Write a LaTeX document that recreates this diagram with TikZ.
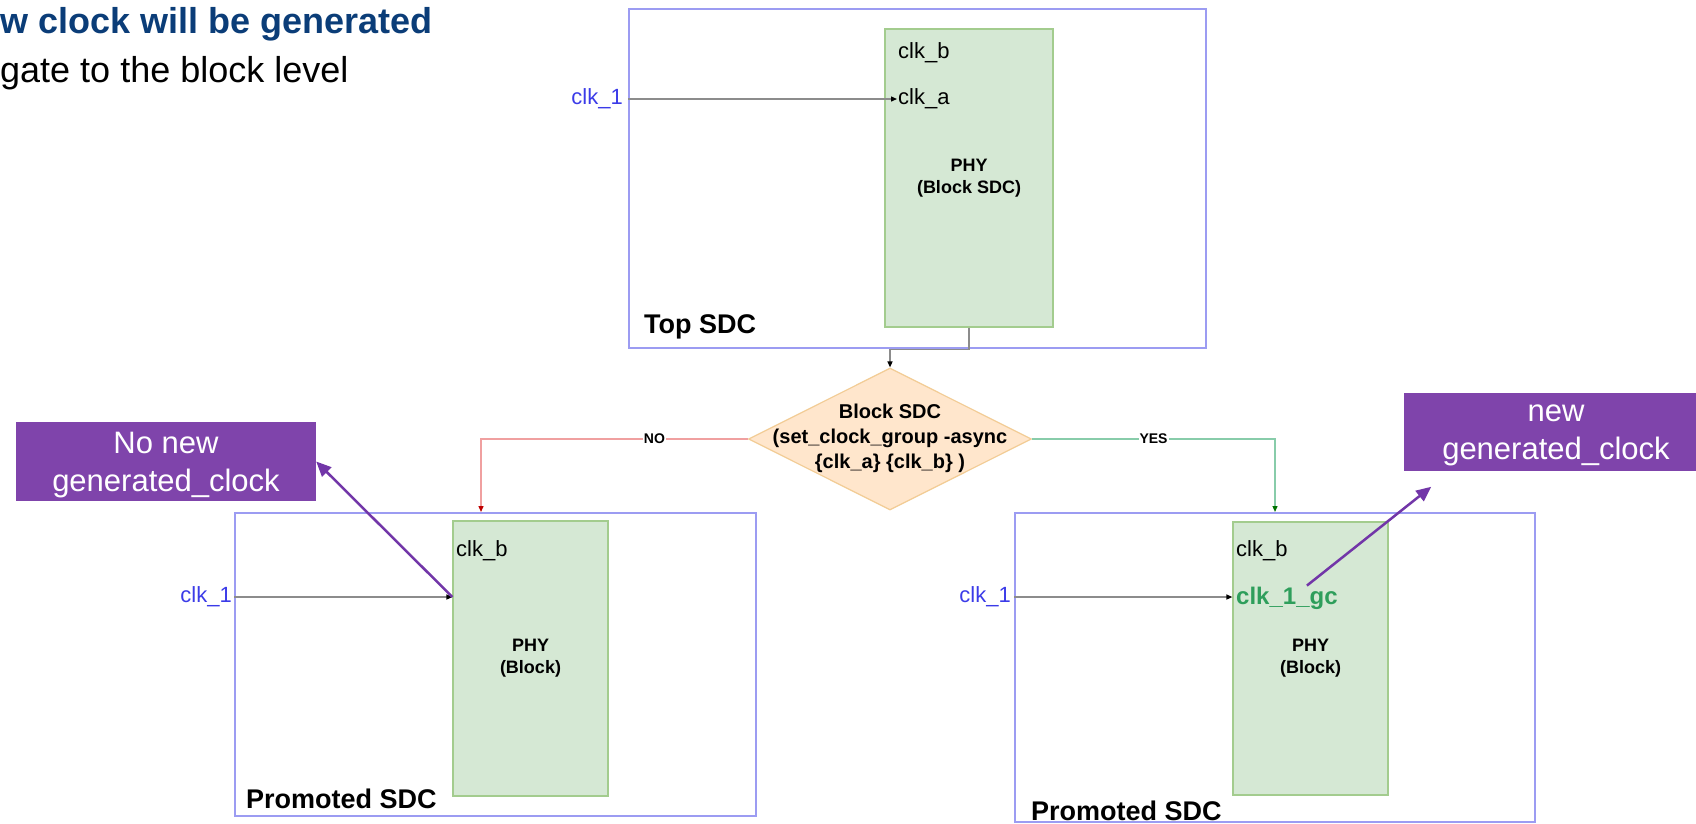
\documentclass[tikz,border=0pt]{standalone}
\usepackage{fontspec}
\setmainfont{Liberation Sans}
\usepackage{xcolor}
\usetikzlibrary{shapes.geometric,positioning,arrows.meta,calc}
\definecolor{sdcblue}{HTML}{9C9CF2}
\definecolor{phyfill}{HTML}{D5E8D4}
\definecolor{phydraw}{HTML}{A3CC8E}
\definecolor{condfill}{HTML}{FFE6CC}
\definecolor{conddraw}{HTML}{F2CC95}
\definecolor{nored}{HTML}{F0A0A0}
\definecolor{yesgreen}{HTML}{88CCAA}
\definecolor{clkblue}{HTML}{3B3BE8}
\definecolor{gcgreen}{HTML}{2E9E5B}
\definecolor{callpurple}{HTML}{7F44AB}
\definecolor{arrowpurple}{HTML}{7236A8}
\definecolor{titleblue}{HTML}{0B3D78}
\tikzset{
  sdcbox/.style={draw=sdcblue, line width=2pt, inner sep=0pt},
  phybox/.style={draw=phydraw, fill=phyfill, line width=1.2pt, align=center,
                 font=\fontsize{18}{22}\selectfont\bfseries},
  decision/.style={diamond, draw=conddraw, fill=condfill, line width=1.2pt,
                   inner sep=0pt, minimum width=283pt, minimum height=142pt},
  condtxt/.style={align=center, inner sep=0pt, font=\fontsize{20}{25}\selectfont\bfseries},
  pinlbl/.style={inner sep=1pt, font=\fontsize{22}{26}\selectfont},
  sdclbl/.style={inner sep=0pt, anchor=base west, font=\fontsize{27}{32}\selectfont\bfseries},
  wire/.style={draw=gray!90, line width=1.3pt, -{Triangle[length=6pt,width=5pt,color=black]}},
  nowire/.style={draw=nored, line width=1.3pt, -{Triangle[length=6pt,width=5pt,color=red!75!black]}},
  yeswire/.style={draw=yesgreen, line width=1.3pt, -{Triangle[length=6pt,width=5pt,color=green!45!black]}},
  edgelbl/.style={fill=white, inner sep=1pt, font=\fontsize{14}{16}\selectfont\bfseries},
  callout/.style={fill=callpurple, text=white, align=center, inner sep=0pt, text depth=-4pt,
                  font=\fontsize{31}{38}\selectfont},
  callarrow/.style={draw=arrowpurple, line width=2.5pt, -{Triangle[length=15pt,width=13pt]}},
}
\begin{document}
\begin{tikzpicture}[x=1pt,y=-1pt]
    \useasboundingbox (0,0) rectangle (1696,823);

    %% ---------- cabecalho ----------
    \node[anchor=base west, inner sep=0pt, text=titleblue, font=\fontsize{36}{43}\selectfont\bfseries] (title) at (0,33) {w clock will be generated};
    \node[anchor=base west, inner sep=0pt, font=\fontsize{36}{43}\selectfont] (subtitle) at (0,82) {gate to the block level};

    %% ---------- top SDC ----------
    \node[sdcbox, minimum width=577pt, minimum height=339pt] (topsdc) at (917.5,178.5) {};
    \node[phybox, minimum width=168pt, minimum height=298pt] (topphy) at (969,178) {PHY\\(Block SDC)};
    \node[pinlbl, anchor=west] (topclkb) at (897,53) {clk\_b};
    \node[pinlbl, anchor=west] (topclka) at (897,99) {clk\_a};
    \node[pinlbl, anchor=east, text=clkblue] (topclk1) at (624,99) {clk\_1};
    \node[sdclbl] (toplbl) at (644,333) {Top SDC};
    \draw[wire] (topclk1 -| topsdc.west) -- (topclka.west);

    %% ---------- decisao ----------
    \node[decision] (cond) at (890,439) {};
    \node[condtxt] (condlbl) at (890,438) {Block SDC\\(set\_clock\_group -async\\\{clk\_a\} \{clk\_b\} )};
    \draw[wire] (topphy.south) -- ++(0,22) -| (cond.north);

    %% ---------- promoted SDC (NO) ----------
    \node[sdcbox, minimum width=521pt, minimum height=303pt] (leftsdc) at (495.5,664.5) {};
    \node[phybox, minimum width=155pt, minimum height=275pt] (leftphy) at (530.5,658.5) {PHY\\(Block)};
    \node[pinlbl, anchor=west] (leftclkb) at (455,551) {clk\_b};
    \node[pinlbl, anchor=east, text=clkblue] (leftclk1) at (233,597) {clk\_1};
    \node[sdclbl] (leftlbl) at (246,808) {Promoted SDC};
    \draw[wire] (leftclk1 -| leftsdc.west) -- (leftclk1 -| leftphy.west);

    %% ---------- promoted SDC (YES) ----------
    \node[sdcbox, minimum width=520pt, minimum height=309pt] (rightsdc) at (1275,667.5) {};
    \node[phybox, minimum width=155pt, minimum height=273pt] (rightphy) at (1310.5,658.5) {PHY\\(Block)};
    \node[pinlbl, anchor=west] (rightclkb) at (1235,551) {clk\_b};
    \node[pinlbl, anchor=west, text=gcgreen, font=\fontsize{24}{28}\selectfont\bfseries] (rightgc) at (1235,598) {clk\_1\_gc};
    \node[pinlbl, anchor=east, text=clkblue] (rightclk1) at (1012,597) {clk\_1};
    \node[sdclbl] (rightlbl) at (1031,820) {Promoted SDC};
    \draw[wire] (rightclk1 -| rightsdc.west) -- (rightclk1 -| rightphy.west);

    %% ramos NO / YES
    \draw[nowire] (cond.west) -| node[edgelbl, pos=0.175] (nolbl) {NO} ([xshift=-14.5pt]leftsdc.north);
    \draw[yeswire] (cond.east) -| node[edgelbl, pos=0.25] (yeslbl) {YES} (rightsdc.north);

    %% ---------- chamadas ----------
    \node[callout, minimum width=300pt, minimum height=79pt] (nonew) at (166,461.5) {No new\\generated\_clock};
    \node[callout, minimum width=304pt, minimum height=78pt] (newgc) at (1556,432) {new\\generated\_clock};
    \draw[callarrow] (leftclk1 -| leftphy.west) -- (nonew.east);
    \draw[callarrow, shorten >=25pt] ([xshift=20pt]rightgc.north) -- ([xshift=47pt]newgc.south west);

\end{tikzpicture}
\end{document}
